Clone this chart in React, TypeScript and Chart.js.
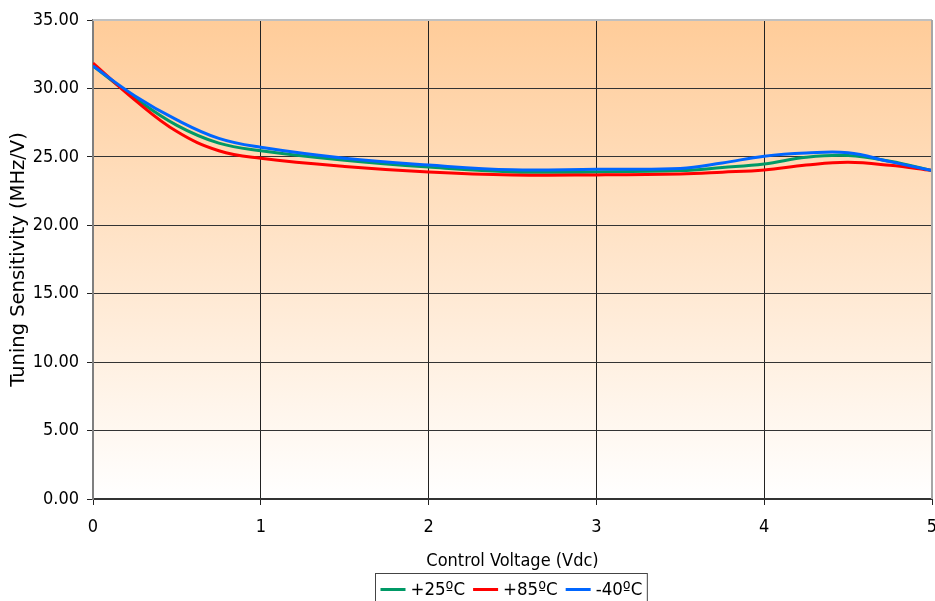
import React, { useEffect, useRef } from "react";
import { Chart, registerables } from "chart.js";

Chart.register(...registerables);

const VOLTAGE = [0, 0.25, 0.5, 0.75, 1, 1.5, 2, 2.5, 3, 3.5, 3.75, 4, 4.25, 4.5, 4.75, 5];
const SENS_25C = [31.65, 29.3, 27.3, 26.0, 25.45, 24.75, 24.25, 23.9, 23.9, 24.0, 24.22, 24.48, 24.97, 25.1, 24.68, 24.0];
const SENS_85C = [31.85, 29.15, 26.85, 25.45, 24.9, 24.3, 23.9, 23.68, 23.68, 23.75, 23.88, 24.04, 24.4, 24.6, 24.38, 24.0];
const SENS_M40C = [31.65, 29.45, 27.7, 26.35, 25.7, 24.9, 24.4, 24.05, 24.1, 24.15, 24.55, 25.05, 25.28, 25.3, 24.65, 24.0];
const SERIES_LABELS = ["+25ºC", "+85ºC", "-40ºC"];
const X_TICKS = [0, 1, 2, 3, 4, 5];
const Y_TICKS = [0, 5, 10, 15, 20, 25, 30, 35];

const FONT_FAMILY = "'DejaVu Sans Condensed', 'Liberation Sans', sans-serif";
const WIDE_FAMILY = "'DejaVu Sans', Verdana, sans-serif";

const bgPlugin = {
  id: "plotBg",
  beforeDraw(chart: any) {
    const { ctx, chartArea: a } = chart;
    const g = ctx.createLinearGradient(0, a.top, 0, a.bottom);
    g.addColorStop(0, "#FFCC99");
    g.addColorStop(1, "#FFFFFF");
    ctx.save();
    ctx.fillStyle = g;
    ctx.fillRect(a.left, a.top, a.right - a.left, a.bottom - a.top);
    ctx.restore();
  },
  afterDraw(chart: any) {
    const { ctx, chartArea: a } = chart;
    ctx.save();
    ctx.lineWidth = 2;
    ctx.strokeStyle = "#C0C0C0";
    ctx.beginPath();
    ctx.moveTo(a.left, a.top);
    ctx.lineTo(a.right, a.top);
    ctx.stroke();
    ctx.strokeStyle = "#A6A6A6";
    ctx.beginPath();
    ctx.moveTo(a.right, a.top);
    ctx.lineTo(a.right, a.bottom);
    ctx.stroke();
    ctx.restore();
  },
};

const legendPlugin = {
  id: "boxLegend",
  afterDraw(chart: any) {
    const { ctx, chartArea: a } = chart;
    const ds = chart.data.datasets;
    ctx.save();
    ctx.font = `18.5px ${FONT_FAMILY}`;
    const pad = 5, lineW = 25, gap1 = 5, gap2 = 8;
    const widths = ds.map((d: any) => ctx.measureText(d.label).width);
    let total = pad * 2 + gap2 * (ds.length - 1);
    widths.forEach((w: number) => (total += lineW + gap1 + w));
    const cx = (a.left + a.right) / 2 - 2;
    const left = Math.round(cx - total / 2) + 0.5;
    const top = 573.5;
    ctx.strokeStyle = "#444";
    ctx.lineWidth = 1;
    ctx.strokeRect(left, top, total, 40);
    const midY = 590;
    let x = left + pad;
    ds.forEach((d: any, i: number) => {
      ctx.strokeStyle = d.borderColor;
      ctx.lineWidth = 3;
      ctx.beginPath();
      ctx.moveTo(x, midY - 0.5);
      ctx.lineTo(x + lineW, midY - 0.5);
      ctx.stroke();
      x += lineW + gap1;
      ctx.fillStyle = "#000";
      ctx.textBaseline = "middle";
      ctx.textAlign = "left";
      ctx.fillText(d.label, x, midY);
      x += widths[i] + gap2;
    });
    ctx.restore();
  },
};

export default function App() {
  const ref = useRef<HTMLCanvasElement | null>(null);
  useEffect(() => {
    if (!ref.current) return;
    const mk = (ys: number[]) => VOLTAGE.map((v, i) => ({ x: v, y: ys[i] }));
    const chart = new Chart(ref.current, {
      type: "line",
      data: {
        datasets: [
          { label: SERIES_LABELS[0], data: mk(SENS_25C), borderColor: "#009966", order: 3 },
          { label: SERIES_LABELS[1], data: mk(SENS_85C), borderColor: "#FF0000", order: 2 },
          { label: SERIES_LABELS[2], data: mk(SENS_M40C), borderColor: "#0066FF", order: 1 },
        ].map((d) => ({ ...d, borderWidth: 3, pointRadius: 0, tension: 0.4, fill: false })),
      },
      options: {
        animation: false,
        responsive: false,
        layout: { padding: { top: 20, right: 3, left: 0, bottom: 0 } },
        plugins: { legend: { display: false }, tooltip: { enabled: false } },
        font: { family: FONT_FAMILY, size: 18 },
        scales: {
          x: {
            type: "linear",
            min: 0,
            max: 5,
            afterBuildTicks: (s: any) => {
              s.ticks = X_TICKS.map((v) => ({ value: v }));
            },
            afterFit: (s: any) => {
              s.height = 102;
              s.paddingLeft = 0;
              s.paddingRight = 0;
            },
            ticks: {
              color: "#000",
              padding: 12,
              maxRotation: 0,
              autoSkip: false,
              font: { family: FONT_FAMILY, size: 18 },
              callback: (v: any) => String(v),
            },
            grid: {
              color: (c: any) => (c.tick && (c.tick.value === 5 || c.tick.value === 0) ? "rgba(0,0,0,0)" : "#222"),
              tickColor: "#222",
              tickLength: 6,
              lineWidth: 1,
            },
            border: { color: "#333", width: 2 },
            title: {
              display: true,
              text: "Control Voltage (Vdc)",
              color: "#000",
              font: { family: FONT_FAMILY, size: 18 },
              padding: { top: 0, bottom: 29 },
            },
          },
          y: {
            type: "linear",
            min: 0,
            max: 35,
            afterBuildTicks: (s: any) => {
              s.ticks = Y_TICKS.map((v) => ({ value: v }));
            },
            afterFit: (s: any) => {
              s.width = 93;
              s.paddingTop = 0;
              s.paddingBottom = 0;
            },
            ticks: {
              color: "#000",
              padding: 8,
              autoSkip: false,
              font: { family: FONT_FAMILY, size: 18 },
              callback: (v: any) => Number(v).toFixed(2),
            },
            grid: {
              color: (c: any) => (c.tick && (c.tick.value === 35 || c.tick.value === 0) ? "rgba(0,0,0,0)" : "#333"),
              tickColor: "#222",
              tickLength: 6,
              lineWidth: 1,
            },
            border: { color: "#7F7F7F", width: 2 },
            title: {
              display: true,
              text: "Tuning Sensitivity (MHz/V)",
              color: "#000",
              font: { family: WIDE_FAMILY, size: 19.5 },
              padding: { top: 7, bottom: 0 },
            },
          },
        },
      },
      plugins: [bgPlugin, legendPlugin],
    } as any);
    return () => chart.destroy();
  }, []);
  return (
    <div style={{ position: "fixed", left: 0, top: 0, width: 935, height: 601, overflow: "hidden", background: "#fff" }}>
      <canvas ref={ref} width={935} height={601} style={{ display: "block" }} />
    </div>
  );
}
